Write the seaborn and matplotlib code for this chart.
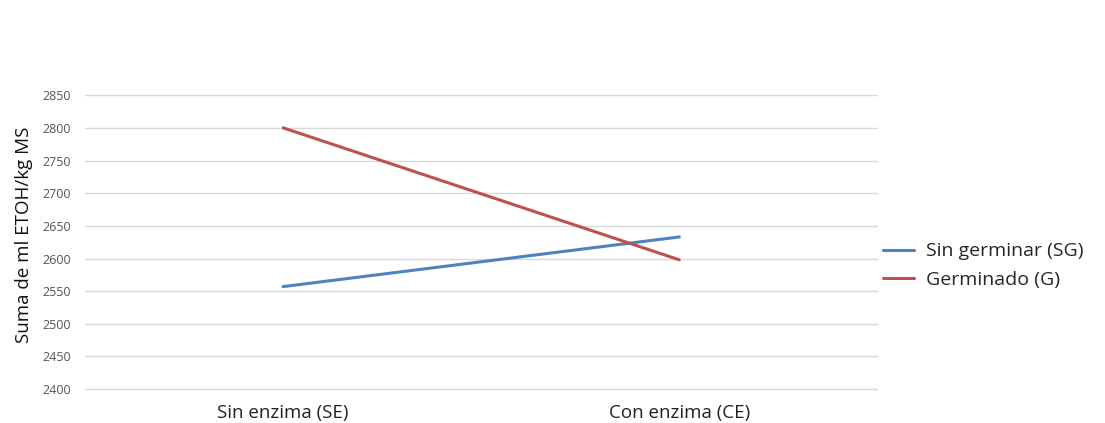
import matplotlib
matplotlib.use("Agg")
import matplotlib.pyplot as plt
import seaborn as sns
import pandas as pd

# Treatments on the x axis and the two grain conditions
categories = ["Sin enzima (SE)", "Con enzima (CE)"]
series_names = ["Sin germinar (SG)", "Germinado (G)"]
sin_germinar = [2557, 2633]
germinado = [2800, 2598]
y_ticks = [2400, 2450, 2500, 2550, 2600, 2650, 2700, 2750, 2800, 2850]

df = pd.DataFrame({
    "enzima": categories * 2,
    "pos": [0, 1] * 2,
    "valor": sin_germinar + germinado,
    "serie": [series_names[0]] * 2 + [series_names[1]] * 2,
})

sns.set_theme(style="white")
plt.rcParams["font.family"] = ["Open Sans", "DejaVu Sans"]

fig = plt.figure(figsize=(11.05, 4.23), dpi=100)
ax = fig.add_axes([0.077, 0.080, 0.717, 0.695])

palette = {series_names[0]: "#4F81BD", series_names[1]: "#C0504D"}
sns.lineplot(data=df, x="pos", y="valor", hue="serie", palette=palette,
             linewidth=2.2, ax=ax, legend=True)

ax.set_xlim(-0.5, 1.5)
ax.set_ylim(2400, 2850)
ax.set_xticks([0, 1])
ax.set_xticklabels(categories, fontsize=13.5, color="#222222")
ax.set_yticks(y_ticks)
ax.set_yticklabels([str(t) for t in y_ticks], fontsize=9, color="#555555")
ax.tick_params(axis="both", length=0)
ax.tick_params(axis="x", pad=11)
ax.tick_params(axis="y", pad=10)
ax.grid(axis="y", color="#D9D9D9", linewidth=1)
for gl in ax.get_ygridlines():
    gl.set_clip_on(False)
for s in ax.spines.values():
    s.set_visible(False)

ax.set_xlabel("")
ax.set_ylabel("Suma de ml ETOH/kg MS", fontsize=13.5, color="#111111")
ax.yaxis.set_label_coords(-0.066, 0.525)

handles, labels = ax.get_legend_handles_labels()
ax.legend(handles, labels, loc="center left", bbox_to_anchor=(0.985, 0.42),
          frameon=False, fontsize=14, handlelength=1.6, handletextpad=0.6,
          labelspacing=0.55)

fig.savefig("out.png", dpi=100, facecolor="white")
